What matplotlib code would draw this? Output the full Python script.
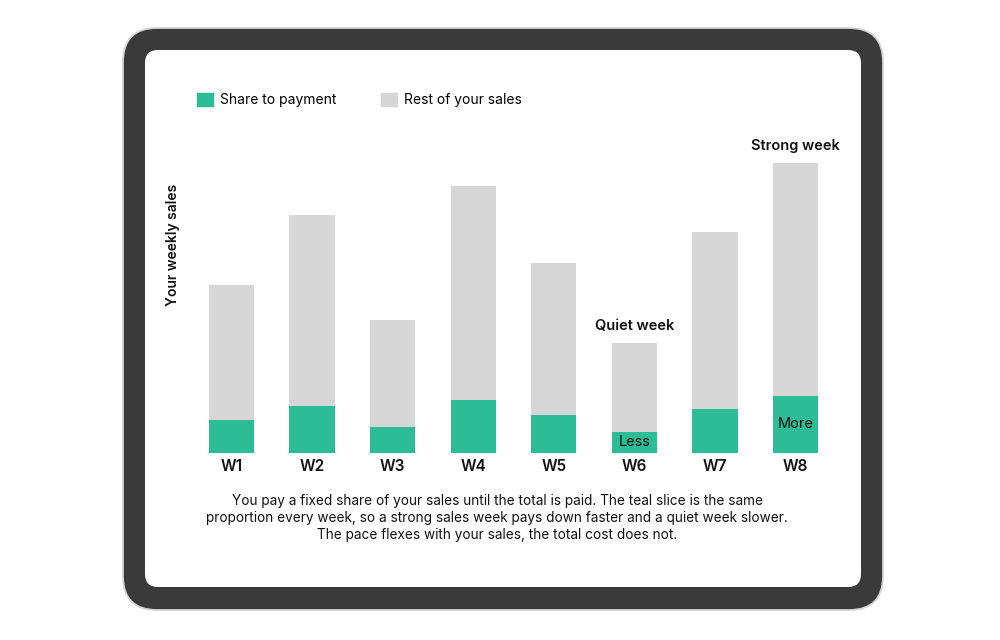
import matplotlib.pyplot as plt
from matplotlib.patches import FancyBboxPatch, Patch

plt.rcParams['font.family'] = ['Inter', 'DejaVu Sans']

# weekly sales (arbitrary units) and the fixed share that goes to payment
weeks = ['W1', 'W2', 'W3', 'W4', 'W5', 'W6', 'W7', 'W8']
total_sales = [16.8, 23.8, 13.3, 26.7, 19.0, 11.0, 22.1, 29.0]
share = [3.3, 4.7, 2.6, 5.3, 3.8, 2.1, 4.4, 5.7]
rest = [t - s for t, s in zip(total_sales, share)]

teal = '#2dbd96'
grey = '#d6d6d6'
W, H = 1000, 640

fig = plt.figure(figsize=(10, 6.4), dpi=100)
fig.patch.set_facecolor('white')

# tablet frame, drawn in pixel space on a background axes
bg = fig.add_axes([0, 0, 1, 1])
bg.set_xlim(0, W)
bg.set_ylim(H, 0)
bg.axis('off')
bg.add_patch(FancyBboxPatch((123, 28), 760, 582, boxstyle='round,pad=0,rounding_size=34',
                            fc='#3a3a3a', ec='#d4d4d4', lw=1.3))
bg.add_patch(FancyBboxPatch((145, 50), 716, 537, boxstyle='round,pad=0,rounding_size=13',
                            fc='white', ec='none'))

# chart axes
left, right, base, top = 191, 836, 453, 120
ax = fig.add_axes([left / W, (H - base) / H, (right - left) / W, (base - top) / H])
ax.set_facecolor('none')
x = range(len(weeks))
ax.bar(x, share, width=0.56, color=teal)
ax.bar(x, rest, bottom=share, width=0.56, color=grey)
ax.set_xlim(-0.5, len(weeks) - 0.5)
ax.set_ylim(0, 33.3)
ax.set_xticks(list(x))
ax.set_xticklabels(weeks, fontsize=11, fontweight='semibold', color='#111111')
ax.tick_params(axis='x', length=0, pad=4)
ax.set_yticks([])
for s in ax.spines.values():
    s.set_visible(False)

ax.annotate('Quiet week', (5, total_sales[5]), xytext=(0, 7), textcoords='offset points',
            ha='center', va='bottom', fontsize=10.5, fontweight='semibold', color='#111111')
ax.annotate('Strong week', (7, total_sales[7]), xytext=(0, 7), textcoords='offset points',
            ha='center', va='bottom', fontsize=10.5, fontweight='semibold', color='#111111')
ax.text(5, share[5] / 2, 'Less', ha='center', va='center', fontsize=10.5, color='#111111')
ax.text(7, share[7] / 2, 'More', ha='center', va='center', fontsize=10.5, color='#111111')

fig.text(173 / W, 1 - 245 / H, 'Your weekly sales', rotation=90, ha='center', va='center',
         fontsize=10, fontweight='semibold', color='#111111')

handles = [Patch(color=teal, label='Share to payment'), Patch(color=grey, label='Rest of your sales')]
fig.legend(handles=handles, loc='center left', bbox_to_anchor=(197 / W, 1 - 100 / H), ncol=2,
           frameon=False, fontsize=10, handlelength=1.15, handleheight=1.15, handletextpad=0.5,
           columnspacing=3.2, borderaxespad=0, borderpad=0)

fig.text(497 / W, 1 - 518 / H,
         'You pay a fixed share of your sales until the total is paid. The teal slice is the same\n'
         'proportion every week, so a strong sales week pays down faster and a quiet week slower.\n'
         'The pace flexes with your sales, the total cost does not.',
         ha='center', va='center', fontsize=9.8, color='#111111', linespacing=1.25)

fig.savefig('out.png', dpi=100)
